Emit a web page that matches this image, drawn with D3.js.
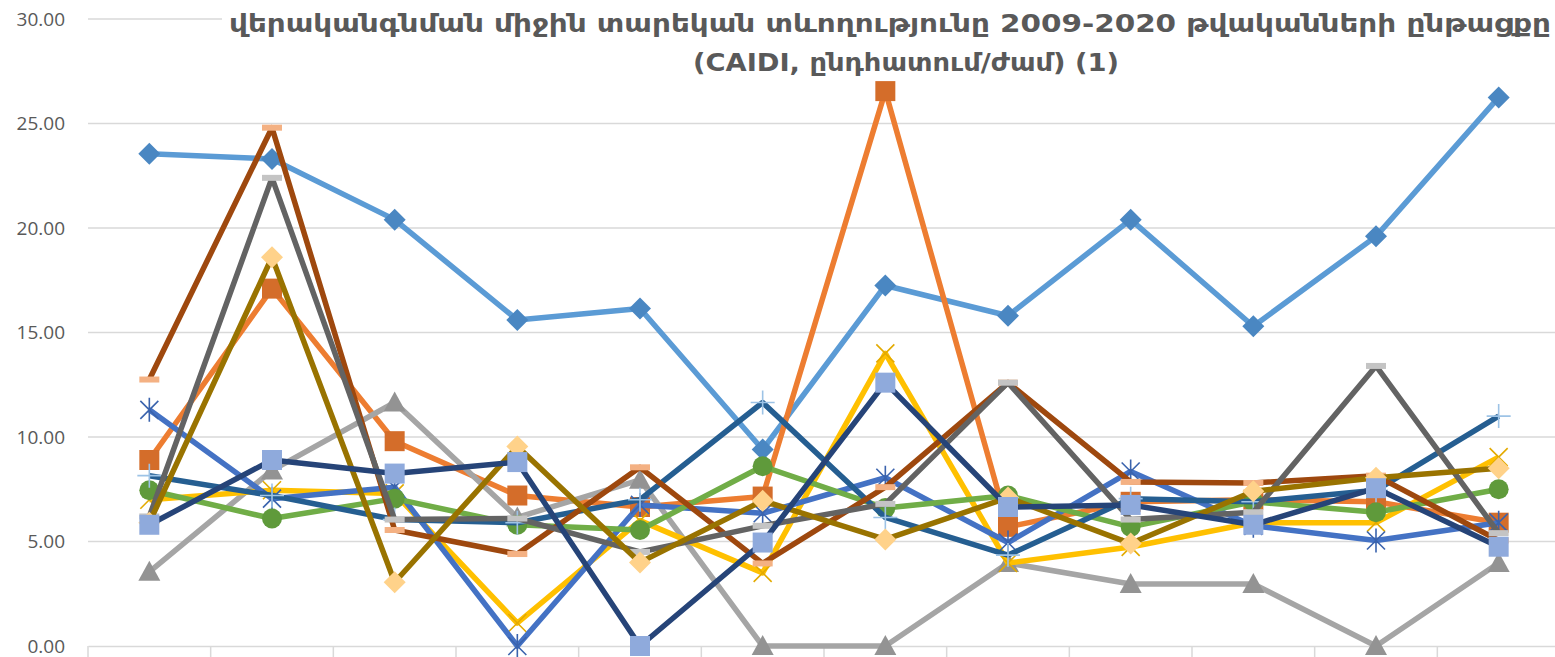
<!DOCTYPE html>
<html>
<head>
<meta charset="utf-8">
<script src="https://cdn.jsdelivr.net/npm/d3@7"></script>
<style>
    body { margin: 0; background: #fff; }
    svg { display: block; }
</style>
</head>
<body>
<div id="chart"></div>
<script>

// categories (x axis)
let years = ["2009", "2010", "2011", "2012", "2013", "2014", "2015", "2016", "2017", "2018", "2019", "2020"];

// y axis tick values
let yTicks = [0, 5, 10, 15, 20, 25, 30];

// series values
let s1 = [23.55, 23.3, 20.4, 15.6, 16.15, 9.4, 17.25, 15.8, 20.4, 15.3, 19.6, 26.25];
let s2 = [8.9, 17.1, 9.8, 7.2, 6.65, 7.15, 26.55, 5.7, 6.9, 7.0, 6.9, 5.9];
let s3 = [3.55, 8.4, 11.65, 6.15, 7.95, 0, 0, 3.97, 2.97, 2.97, 0, 3.97];
let s4 = [7.0, 7.45, 7.3, 1.1, 6.0, 3.5, 14.0, 3.97, 4.74, 5.9, 5.9, 9.04];
let s5 = [11.3, 7.05, 7.6, 0, 6.75, 6.35, 8.05, 4.95, 8.35, 5.75, 5.05, 5.9];
let s6 = [7.45, 6.1, 7.05, 5.8, 5.55, 8.6, 6.6, 7.2, 5.7, 6.9, 6.4, 7.5];
let s7 = [8.15, 7.2, 6.05, 5.9, 7.0, 11.65, 6.15, 4.35, 7.05, 6.9, 7.45, 11.0];
let s8 = [12.75, 24.8, 5.55, 4.4, 8.55, 3.95, 7.6, 12.6, 7.85, 7.8, 8.15, 5.05];
let s9 = [6.2, 22.4, 6.05, 6.1, 4.5, 5.75, 6.8, 12.6, 6.05, 6.4, 13.4, 5.4];
let s10 = [5.9, 18.6, 3.05, 9.55, 4.0, 6.95, 5.1, 7.1, 4.9, 7.4, 8.05, 8.5];
let s11 = [5.8, 8.9, 8.25, 8.8, 0, 4.95, 12.6, 6.65, 6.75, 5.8, 7.55, 4.75];

let allSeries = [s1, s2, s3, s4, s5, s6, s7, s8, s9, s10, s11];

let titleLines = [
    "վերականգնման  միջին տարեկան տևողությունը  2009-2020 թվականների ընթացքը",
    "(CAIDI, ընդհատում/ժամ) (1)"
];

// styles: line colour, marker shape, marker colour
let lineColors = ["#5B9BD5", "#ED7D31", "#A5A5A5", "#FFC000", "#4472C4", "#70AD47",
    "#255E91", "#9E480E", "#636363", "#997300", "#264478"];
let markerShapes = ["diamond", "square", "triangle", "x", "star", "circle",
    "plus", "dash", "dash", "diamond", "square"];
let markerColors = ["#4A87C2", "#D46D2A", "#939393", "#E3AA00", "#3A63AD", "#5F9A3B",
    "#9DC3E6", "#F4B183", "#C4C4C4", "#FFD28A", "#8FAADC"];

// marker paths, centred on 0,0
let markerPaths = {
    diamond: "M0,-11L11,0L0,11L-11,0Z",
    square: "M-10,-10h20v20h-20Z",
    triangle: "M0,-11L11,9L-11,9Z",
    x: "M-9,-9L9,9M9,-9L-9,9",
    star: "M-9,-9L9,9M9,-9L-9,9M0,-12V12",
    circle: "M10,0A10,10 0 1,1 -10,0A10,10 0 1,1 10,0Z",
    plus: "M-12,0H12M0,-12V12",
    dash: "M-10,-3h20v6h-20Z"
};
let strokedMarkers = ["x", "star", "plus"];

let width = 1555, height = 657;
let margin = { top: 19, right: -5, bottom: 11, left: 88 };

let svg = d3.select("#chart").append("svg")
    .attr("width", width)
    .attr("height", height);

// scales
let x = d3.scaleBand()
    .domain(years)
    .range([margin.left, width - margin.right]);

let y = d3.scaleLinear()
    .domain([0, 30])
    .range([height - margin.bottom, margin.top]);

let cx = d => x(d) + x.bandwidth() / 2;

// gridlines
svg.append("g")
    .attr("class", "grid")
    .selectAll("line")
    .data(yTicks.filter(d => d > 0))
    .enter()
    .append("line")
    .attr("x1", margin.left)
    .attr("x2", width)
    .attr("y1", d => y(d))
    .attr("y2", d => y(d))
    .attr("stroke", "#D9D9D9")
    .attr("stroke-width", 1.5);

// y axis labels
let yAxis = d3.axisLeft(y)
    .tickValues(yTicks)
    .tickFormat(d3.format(".2f"))
    .tickSize(0)
    .tickPadding(23);

svg.append("g")
    .attr("class", "y-axis")
    .attr("transform", "translate(" + margin.left + ",0)")
    .call(yAxis)
    .call(g => g.select(".domain").remove())
    .selectAll("text")
    .attr("fill", "#595959")
    .style("font-family", "'Open Sans', sans-serif")
    .style("font-size", "19px");

// x axis - tick marks at the category boundaries, labels mostly cut by the frame (as in the original)
let xAxis = d3.axisBottom(x)
    .tickSize(0)
    .tickPadding(12);

let xg = svg.append("g")
    .attr("class", "x-axis")
    .attr("transform", "translate(0," + y(0) + ")")
    .call(xAxis);

xg.select(".domain")
    .attr("stroke", "#D9D9D9")
    .attr("stroke-width", 1.5);

xg.selectAll("text")
    .attr("fill", "#595959")
    .style("font-family", "'Open Sans', sans-serif")
    .style("font-size", "19px");

xg.selectAll(".bound")
    .data(years)
    .enter()
    .append("line")
    .attr("class", "bound")
    .attr("x1", d => x(d))
    .attr("x2", d => x(d))
    .attr("y1", 0)
    .attr("y2", 14)
    .attr("stroke", "#D9D9D9")
    .attr("stroke-width", 1.5);

// lines + markers, one group per series (later ones on top)
let line = d3.line()
    .x((d, i) => cx(years[i]))
    .y(d => y(d));

allSeries.forEach((values, k) => {
    let g = svg.append("g").attr("class", "series s" + (k + 1));

    g.append("path")
        .datum(values)
        .attr("d", line)
        .attr("fill", "none")
        .attr("stroke", lineColors[k])
        .attr("stroke-width", 5.5)
        .attr("stroke-linejoin", "round");

    let shape = markerShapes[k];
    let stroked = strokedMarkers.includes(shape);

    g.selectAll("path.marker")
        .data(values)
        .enter()
        .append("path")
        .attr("class", "marker")
        .attr("d", markerPaths[shape])
        .attr("transform", (d, i) => "translate(" + cx(years[i]) + "," + y(d) + ")")
        .attr("fill", stroked ? "none" : markerColors[k])
        .attr("stroke", stroked ? markerColors[k] : "none")
        .attr("stroke-width", stroked ? 1.6 : 0);
});

// title, white box hides the top gridline behind it
svg.append("rect")
    .attr("x", 222)
    .attr("y", 0)
    .attr("width", width - 222)
    .attr("height", 44)
    .attr("fill", "#fff");

let title = svg.append("g").attr("class", "title");
title.append("text")
    .attr("x", 890)
    .attr("y", 32)
    .attr("textLength", 1322)
    .attr("lengthAdjust", "spacingAndGlyphs")
    .text(titleLines[0]);
title.append("text")
    .attr("x", 906)
    .attr("y", 71)
    .attr("textLength", 426)
    .attr("lengthAdjust", "spacingAndGlyphs")
    .text(titleLines[1]);
title.selectAll("text")
    .attr("text-anchor", "middle")
    .attr("fill", "#595959")
    .style("font-family", "'DejaVu Sans Condensed', 'DejaVu Sans', sans-serif")
    .style("font-weight", "bold")
    .style("font-size", "24px");

</script>
</body>
</html>
